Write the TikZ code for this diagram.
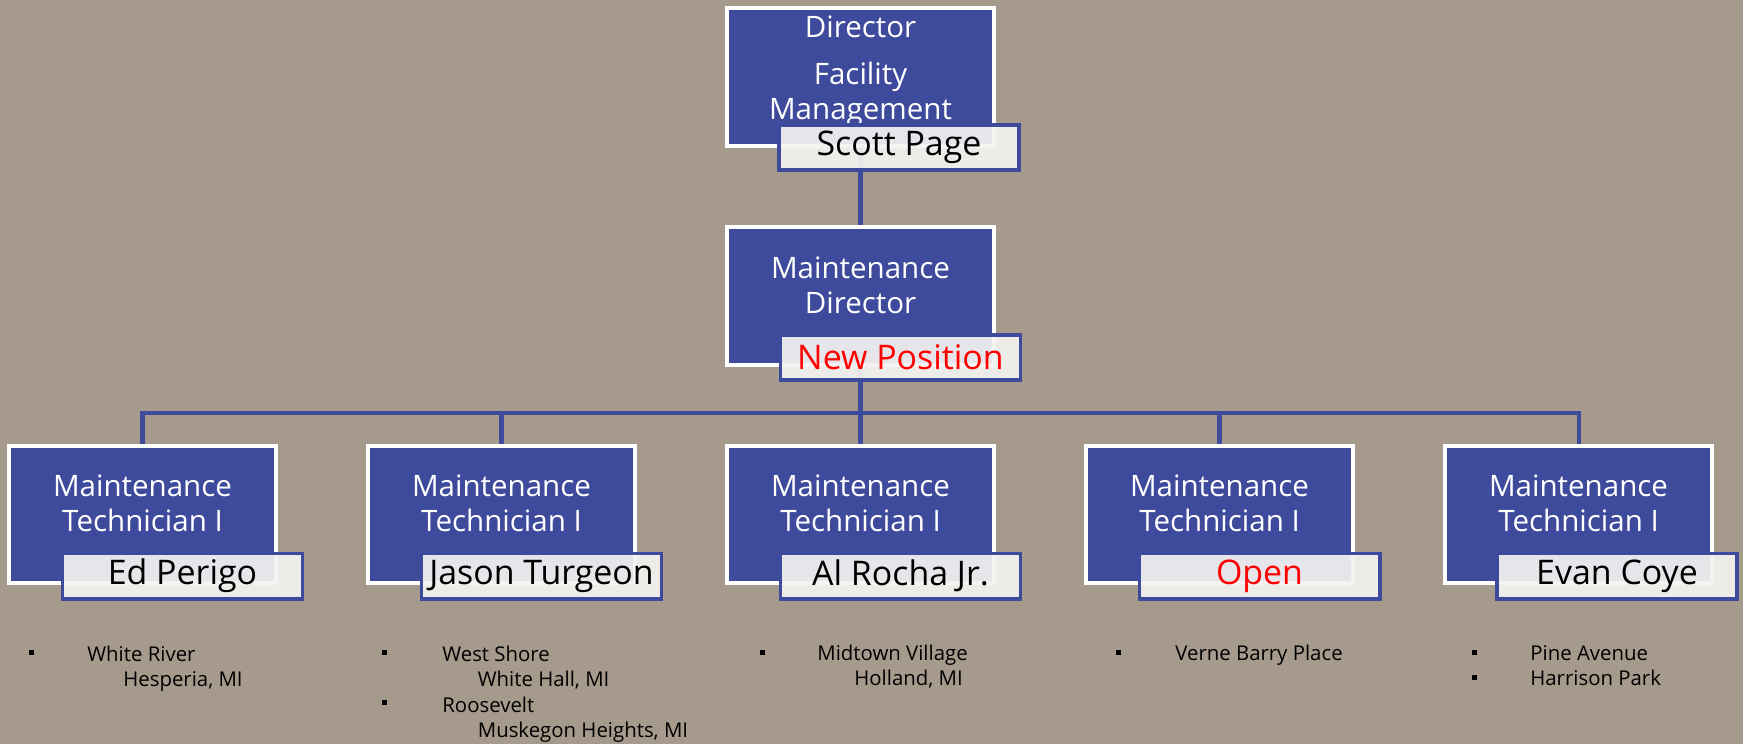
\documentclass[tikz,border=0pt]{standalone}
\usepackage{fontspec}
\setmainfont{Open Sans}
\usetikzlibrary{positioning}
\definecolor{bgtaupe}{HTML}{A69A8C}
\definecolor{boxblue}{HTML}{3E4A9C}
\definecolor{namefill}{HTML}{F4F3F1}
\tikzset
{
    posbox/.style    = {rectangle, draw=white, fill=boxblue, line width=2.4pt, minimum width=5.335cm, minimum height=2.755cm},
    postext/.style   = {align=center, text=white, inner sep=0pt, font=\fontsize{16.8}{19.8}\selectfont},
    namebox/.style   = {rectangle, draw=boxblue, fill=namefill, fill opacity=0.92, text opacity=1, line width=2pt, minimum width=4.81cm, minimum height=0.91cm, inner sep=0pt, font=\fontsize{19.3}{22}\selectfont},
    opennamebox/.style = {namebox, text=red},
    connector/.style = {draw=boxblue, line width=2.3pt},
    bullet/.style    = {rectangle, fill=black, minimum size=0.1cm, inner sep=0pt},
    place/.style     = {anchor=base west, inner sep=0pt, font=\fontsize{11.6}{13}\selectfont}
}

\begin{document}
\begin{tikzpicture}[x=0.02cm, y=-0.02cm]
\fill[bgtaupe] (0,0) rectangle (1743,744);
\useasboundingbox (0,0) rectangle (1743,744);
\newcommand\nameShiftX{40}
\newcommand\nameShiftY{61.5}
\node(dir) [posbox] at (860.5, 77) {};
\node(mdir) [posbox] at (860.5, 296) {};
\node(t1) [posbox] at (142.5, 514.5) {};
\node(t2) [posbox] at (501.5, 514.5) {};
\node(t3) [posbox] at (860.5, 514.5) {};
\node(t4) [posbox] at (1219.5, 514.5) {};
\node(t5) [posbox] at (1578.5, 514.5) {};
\coordinate(bar) at (860.5, 413);
\draw[connector] (dir) -- (mdir);
\draw[connector] (mdir) -- (mdir |- bar) -| (t1);
\draw[connector] (mdir) -- (mdir |- bar) -| (t2);
\draw[connector] (mdir) -- (t3);
\draw[connector] (mdir) -- (mdir |- bar) -| (t4);
\draw[connector] (mdir) -- (mdir |- bar) -| (t5);
\node(dirtext) [postext] at ([yshift=3.4pt]dir) {Director\\[7pt]Facility\\Management};
\node(mdirtext) [postext] at ([yshift=6pt]mdir) {Maintenance\\Director};
\node(t1text) [postext] at ([yshift=6.2pt]t1) {Maintenance\\Technician I};
\node(t2text) [postext] at ([yshift=6.2pt]t2) {Maintenance\\Technician I};
\node(t3text) [postext] at ([yshift=6.2pt]t3) {Maintenance\\Technician I};
\node(t4text) [postext] at ([yshift=6.2pt]t4) {Maintenance\\Technician I};
\node(t5text) [postext] at ([yshift=6.2pt]t5) {Maintenance\\Technician I};
\node(dirname) [namebox] at ([shift=({\nameShiftX-1.5,70.5})]dir) {Scott Page};
\node(mdirname) [opennamebox] at ([shift=({\nameShiftX,\nameShiftY})]mdir) {New Position};
\node(t1name) [namebox] at ([shift=({\nameShiftX,\nameShiftY})]t1) {Ed Perigo};
\node(t2name) [namebox] at ([shift=({\nameShiftX,\nameShiftY})]t2) {Jason Turgeon};
\node(t3name) [namebox] at ([shift=({\nameShiftX,\nameShiftY})]t3) {Al Rocha Jr.};
\node(t4name) [opennamebox] at ([shift=({\nameShiftX,\nameShiftY})]t4) {Open};
\node(t5name) [namebox] at ([shift=({\nameShiftX-1.5,\nameShiftY})]t5) {Evan Coye};
\node(b1) [bullet] at (31.5, 652.5) {};
\node(p1a) [place] at (87, 661) {White River};
\node(p1b) [place] at (123, 686) {Hesperia, MI};
\node(b2a) [bullet] at (384.5, 652.5) {};
\node(p2a) [place] at (442, 661) {West Shore};
\node(p2b) [place] at (477.5, 686) {White Hall, MI};
\node(b2b) [bullet] at (384.5, 702.5) {};
\node(p2c) [place] at (442, 712) {Roosevelt};
\node(p2d) [place] at (477.5, 737) {Muskegon Heights, MI};
\node(b3) [bullet] at (762, 652.5) {};
\node(p3a) [place] at (817, 660) {Midtown Village};
\node(p3b) [place] at (854, 685) {Holland, MI};
\node(b4) [bullet] at (1118, 652.5) {};
\node(p4a) [place] at (1175, 660) {Verne Barry Place};
\node(b5a) [bullet] at (1474, 652.5) {};
\node(p5a) [place] at (1530, 660) {Pine Avenue};
\node(b5b) [bullet] at (1474, 677) {};
\node(p5b) [place] at (1530, 685) {Harrison Park};
\end{tikzpicture}
\end{document}
